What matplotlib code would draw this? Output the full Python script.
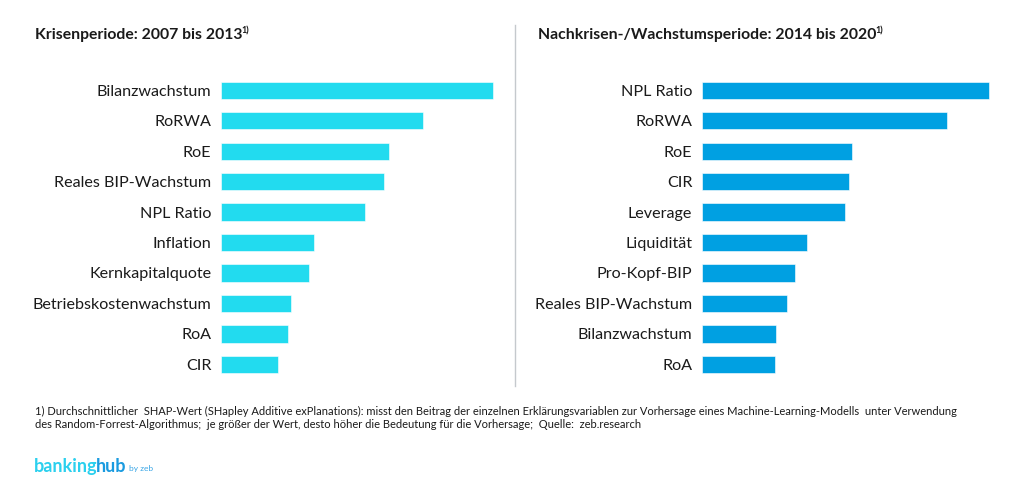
import numpy as np
import matplotlib.pyplot as plt
from matplotlib.lines import Line2D

plt.rcParams['font.family'] = ['Lato', 'DejaVu Sans']

# Krisenperiode 2007-2013 (durchschnittlicher SHAP-Wert, relative Skala)
labels_left = ['Bilanzwachstum', 'RoRWA', 'RoE', 'Reales BIP-Wachstum', 'NPL Ratio',
               'Inflation', 'Kernkapitalquote', 'Betriebskostenwachstum', 'RoA', 'CIR']
values_left = [2.72, 2.02, 1.68, 1.63, 1.44, 0.93, 0.88, 0.70, 0.67, 0.57]

# Nachkrisen-/Wachstumsperiode 2014-2020
labels_right = ['NPL Ratio', 'RoRWA', 'RoE', 'CIR', 'Leverage', 'Liquidität',
                'Pro-Kopf-BIP', 'Reales BIP-Wachstum', 'Bilanzwachstum', 'RoA']
values_right = [2.87, 2.45, 1.50, 1.47, 1.43, 1.05, 0.93, 0.85, 0.74, 0.73]

W, H = 1024, 498
fig = plt.figure(figsize=(W / 100, H / 100), dpi=100)

text_col = '#1a1a1a'


def panel(x0, labels, values, color):
    ax = fig.add_axes([x0 / W, 1 - 379.5 / H, 300 / W, 304.4 / H])
    y = np.arange(len(labels))
    ax.barh(y, values, height=0.57, color=color, edgecolor='white', linewidth=0.4)
    ax.set_xlim(0, 3.0)
    ax.set_ylim(len(labels) - 0.5, -0.5)
    ax.set_yticks(y)
    ax.set_yticklabels(labels, fontsize=11.6, color=text_col)
    ax.tick_params(axis='y', length=0, pad=7)
    ax.set_xticks([])
    for s in ax.spines.values():
        s.set_visible(False)
    ax.patch.set_alpha(0)
    return ax


panel(221, labels_left, values_left, '#22dbef')
panel(702, labels_right, values_right, '#00a0e2')

# titles with footnote marker
renderer = fig.canvas.get_renderer()
for x, title in [(35, 'Krisenperiode: 2007 bis 2013'),
                 (538, 'Nachkrisen-/Wachstumsperiode: 2014 bis 2020')]:
    t = fig.text(x / W, 1 - 35 / H, title, fontsize=11.3, fontweight='bold',
                 color=text_col, va='center', ha='left')
    bb = t.get_window_extent(renderer)
    fig.text((bb.x1 - 1) / W, 1 - 31 / H, '1)', fontsize=6.5, fontweight='bold',
             color=text_col, va='center', ha='left')

# divider
fig.add_artist(Line2D([515 / W, 515 / W], [1 - 25 / H, 1 - 386 / H],
                      color='#c5c9cd', linewidth=1))

# footnote
fig.text(35 / W, 1 - 411 / H,
         '1) Durchschnittlicher  SHAP-Wert (SHapley Additive exPlanations): misst den Beitrag der einzelnen '
         'Erklärungsvariablen zur Vorhersage eines Machine-Learning-Modells  unter Verwendung',
         fontsize=8.0, color=text_col, va='center', ha='left')
fig.text(35 / W, 1 - 425 / H,
         'des Random-Forrest-Algorithmus;  je größer der Wert, desto höher die Bedeutung für die Vorhersage;  '
         'Quelle:  zeb.research',
         fontsize=8.0, color=text_col, va='center', ha='left')

# logo
t1 = fig.text(34 / W, 1 - 466 / H, 'banking', fontsize=13, fontweight='bold',
              color='#2bd0ee', va='center', ha='left')
bb = t1.get_window_extent(renderer)
t2 = fig.text((bb.x1 - 2) / W, 1 - 466 / H, 'hub', fontsize=13, fontweight='bold',
              color='#1a9be0', va='center', ha='left')
bb = t2.get_window_extent(renderer)
fig.text((bb.x1 + 3) / W, 1 - 468 / H, 'by zeb', fontsize=6,
         color='#3aa6e6', va='center', ha='left')

fig.savefig('out.png', dpi=100, facecolor='white')
